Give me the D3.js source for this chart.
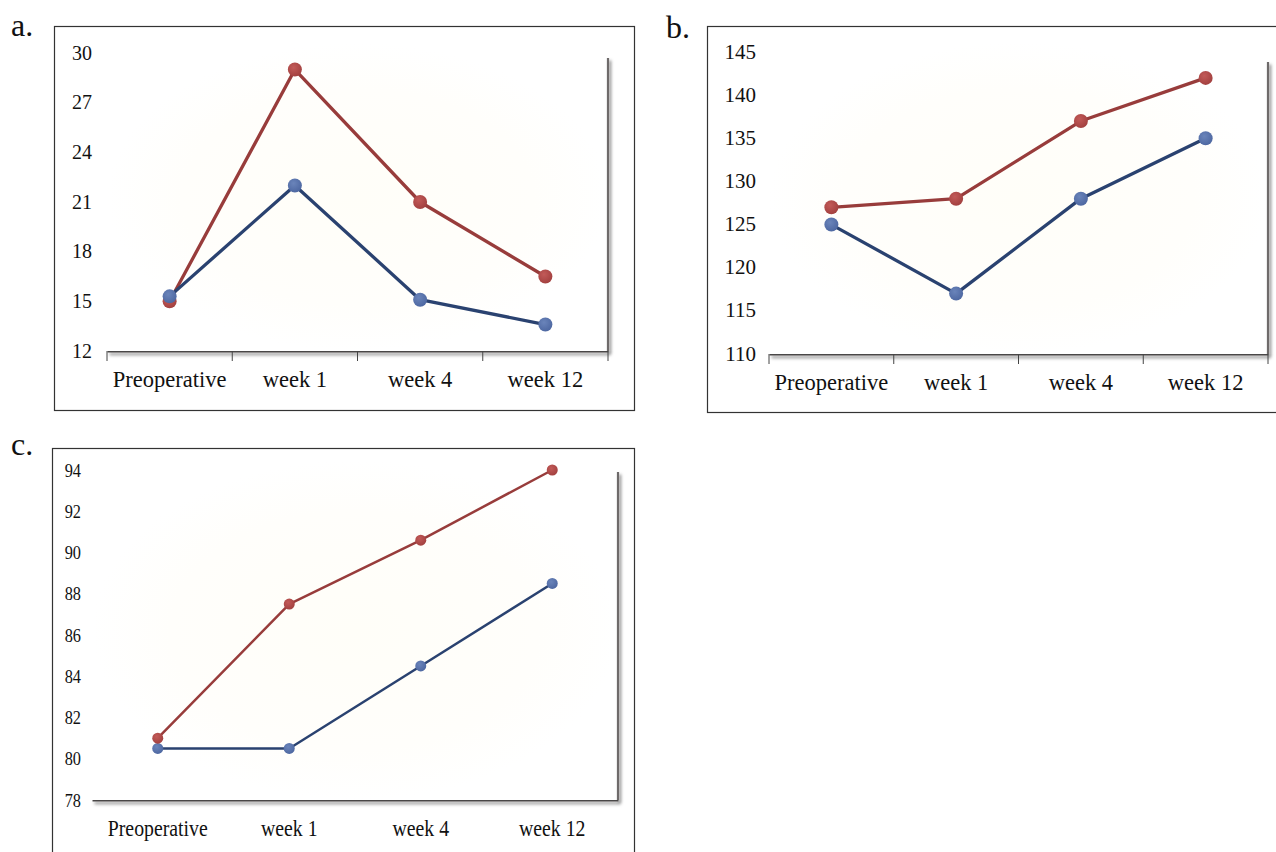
<!DOCTYPE html>
<html>
<head>
<meta charset="utf-8">
<script src="https://cdn.jsdelivr.net/npm/d3@7"></script>
<style>
  body { margin: 0; background: #fff; }
  svg { display: block; }
  text { font-family: "Liberation Serif", "Times New Roman", serif; fill: #111; }
</style>
</head>
<body>
<svg width="1276" height="852"></svg>
<script>
var categories = ["Preoperative", "week 1", "week 4", "week 12"];

// panel a
var aRed = [15, 29, 21, 16.5],
    aBlue = [15.3, 22, 15.1, 13.6],
    aTicks = [12, 15, 18, 21, 24, 27, 30];

// panel b
var bRed = [127, 128, 137, 142],
    bBlue = [125, 117, 128, 135],
    bTicks = [110, 115, 120, 125, 130, 135, 140, 145];

// panel c
var cRed = [81, 87.5, 90.6, 94],
    cBlue = [80.5, 80.5, 84.5, 88.5],
    cTicks = [78, 80, 82, 84, 86, 88, 90, 92, 94];

var svg = d3.select("svg");
var defs = svg.append("defs");

var bg = defs.append("radialGradient").attr("id", "bg");
bg.append("stop").attr("offset", "0%").attr("stop-color", "#fffef8");
bg.append("stop").attr("offset", "70%").attr("stop-color", "#fffefb");
bg.append("stop").attr("offset", "100%").attr("stop-color", "#ffffff");

// user-space filter so it works on zero-height lines
var sh = defs.append("filter").attr("id", "shadow")
    .attr("filterUnits", "userSpaceOnUse")
    .attr("x", 0).attr("y", 0).attr("width", 1276).attr("height", 852);
sh.append("feDropShadow").attr("dx", 2).attr("dy", 2.5).attr("stdDeviation", 1.8)
    .attr("flood-color", "#000").attr("flood-opacity", 0.5);

function dotGrad(id, light, dark) {
  var g = defs.append("radialGradient").attr("id", id)
      .attr("cx", "40%").attr("cy", "35%").attr("r", "70%");
  g.append("stop").attr("offset", "0%").attr("stop-color", light);
  g.append("stop").attr("offset", "100%").attr("stop-color", dark);
}
dotGrad("redDot", "#c25a58", "#a13f3e");
dotGrad("blueDot", "#6a84ba", "#4c66a0");

function panel(o) {
  // outer frame + letter
  svg.append("rect")
      .attr("x", o.box[0] + 0.5).attr("y", o.box[1] + 0.5)
      .attr("width", o.box[2]).attr("height", o.box[3])
      .attr("fill", "#fff").attr("stroke", "#333").attr("stroke-width", 1.2);
  svg.append("text")
      .attr("x", o.letter[0]).attr("y", o.letter[1])
      .attr("font-size", 32).text(o.name);

  var x = d3.scaleBand().domain(categories).range([o.x0, o.x1]),
      y = d3.scaleLinear().domain(d3.extent(o.ticks)).range([o.y1, o.y0]);

  var g = svg.append("g");

  g.append("rect")
      .attr("x", o.x0).attr("y", o.y0 - 10)
      .attr("width", o.x1 - o.x0).attr("height", o.y1 - o.y0 + 10)
      .attr("fill", "url(#bg)");

  // right edge line with shadow
  g.append("line")
      .attr("x1", o.x1).attr("x2", o.x1)
      .attr("y1", o.y0 + o.rightTop).attr("y2", o.y1)
      .attr("stroke", "#6e6a6a").attr("stroke-width", 2.2)
      .attr("filter", "url(#shadow)");

  // bottom axis
  var ax = g.append("g")
      .attr("transform", "translate(0," + o.y1 + ")")
      .call(d3.axisBottom(x).tickSize(0).tickSizeOuter(0).tickFormat(""));
  ax.select(".domain")
      .attr("stroke", "#4a4747").attr("stroke-width", 2.2)
      .attr("filter", "url(#shadow)");
  if (o.tickMarks) {
    ax.selectAll(".bnd").data([o.x0].concat(categories.map(function(c){ return x(c) + x.bandwidth(); })))
      .enter().append("line")
      .attr("x1", function(d){ return d; }).attr("x2", function(d){ return d; })
      .attr("y1", 0).attr("y2", 10)
      .attr("stroke", "#444").attr("stroke-width", 1);
  }

  // category labels
  g.selectAll(".cat").data(categories).enter().append("text")
      .attr("text-anchor", "middle")
      .attr("font-size", o.cfs)
      .attr("transform", function(d){
        return "translate(" + (x(d) + x.bandwidth() / 2) + "," + o.catY + ") scale(" + o.sx + ",1)";
      })
      .text(function(d){ return d; });

  // y tick labels
  g.selectAll(".yt").data(o.ticks).enter().append("text")
      .attr("text-anchor", "end")
      .attr("font-size", o.fs)
      .attr("transform", function(d){
        return "translate(" + o.labX + "," + (y(d) + 6.5) + ") scale(" + o.sx + ",1)";
      })
      .text(function(d){ return d; });

  var line = d3.line()
      .x(function(d, i){ return x(categories[i]) + x.bandwidth() / 2; })
      .y(function(d){ return y(d); });

  var series = [
    {v: o.red, stroke: "#983c3b", fill: "url(#redDot)"},
    {v: o.blue, stroke: "#2a4270", fill: "url(#blueDot)"}
  ];
  if (o.blueFirst) series.reverse();

  series.forEach(function(s) {
    g.append("path").datum(s.v)
        .attr("fill", "none").attr("stroke", s.stroke)
        .attr("stroke-width", o.lw).attr("stroke-linejoin", "round")
        .attr("d", line);
  });
  series.forEach(function(s) {
    g.selectAll(null).data(s.v).enter().append("circle")
        .attr("cx", function(d, i){ return x(categories[i]) + x.bandwidth() / 2; })
        .attr("cy", function(d){ return y(d); })
        .attr("r", o.r)
        .attr("fill", s.fill);
  });
}

panel({
  name: "a.", letter: [11, 36], box: [54, 26, 580, 384],
  x0: 107, x1: 608, y0: 53, y1: 351, rightTop: 5, labX: 92, catY: 387,
  ticks: aTicks, red: aRed, blue: aBlue, fs: 20, cfs: 22.5, sx: 1, lw: 3.3, r: 7, tickMarks: true
});

panel({
  name: "b.", letter: [666, 38], box: [707, 26, 600, 386],
  x0: 769, x1: 1268, y0: 52, y1: 354, rightTop: 10, labX: 756, catY: 390,
  ticks: bTicks, red: bRed, blue: bBlue, fs: 21, cfs: 22.5, sx: 1, lw: 3.3, r: 7, tickMarks: true
});

panel({
  name: "c.", letter: [11, 455], box: [52, 448, 582, 420],
  x0: 92, x1: 618, y0: 470, y1: 800, rightTop: 2, labX: 81, catY: 836,
  ticks: cTicks, red: cRed, blue: cBlue, fs: 19, cfs: 23, sx: 0.86, lw: 2.5, r: 5.5, tickMarks: false,
  blueFirst: true
});
</script>
</body>
</html>
